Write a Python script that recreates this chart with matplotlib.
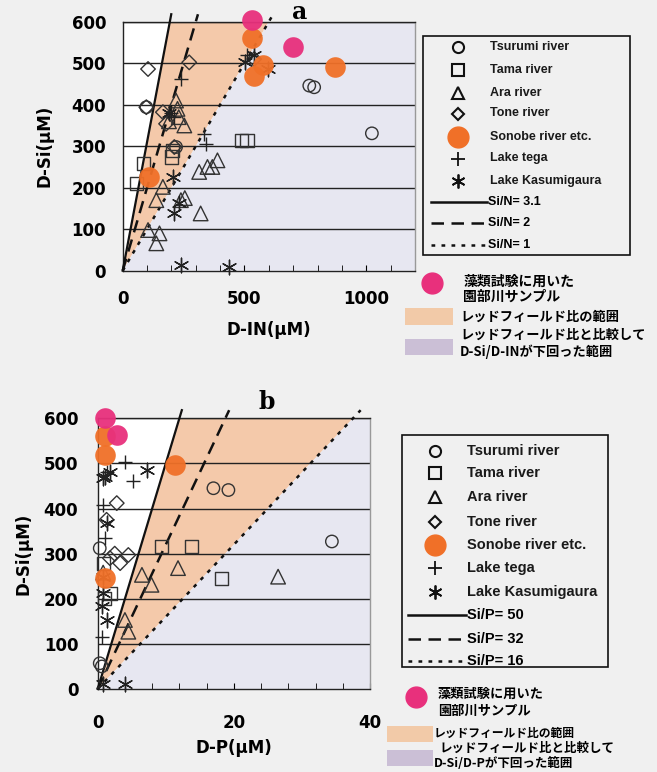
import matplotlib
matplotlib.use("Agg")
import matplotlib.pyplot as plt
from matplotlib.patches import Rectangle
from matplotlib.lines import Line2D
import numpy as np

plt.rcParams['font.family'] = ['DejaVu Sans', 'Noto Sans CJK JP']
plt.rcParams['font.weight'] = 'bold'
plt.rcParams['axes.labelweight'] = 'bold'

W, H = 657, 772
BG = '#f0f0f0'
ORANGE_FILL = '#f4c9aa'
LAV_FILL = '#e7e7f1'
ORANGE = '#f07028'
PINK = '#e8307c'

# ---------------- data panel a (D-IN vs D-Si) ----------------
a_tsurumi_x = [766, 786, 1023, 97, 219]
a_tsurumi_y = [446, 442, 331, 394, 298]
a_tama_x = [489, 510, 57, 84, 199, 205]
a_tama_y = [314, 314, 210, 258, 274, 290]
a_ara_x = [219, 225, 253, 138, 239, 255, 320, 151, 138, 314, 348, 389, 368, 165, 104, 230, 190]
a_ara_y = [410, 390, 350, 170, 170, 175, 138, 90, 66, 238, 250, 266, 250, 202, 98, 370, 360]
a_tone_x = [104, 273, 97, 165, 212, 178, 540]
a_tone_y = [486, 502, 394, 382, 298, 354, 510]
a_tega_x = [239, 212, 334, 341, 200, 510]
a_tega_y = [462, 370, 330, 306, 380, 520]
a_kasumi_x = [239, 435, 205, 212, 232, 503, 597, 190, 540]
a_kasumi_y = [14, 10, 226, 138, 162, 502, 486, 380, 520]
a_sonobe_x = [530, 575, 540, 870, 110]
a_sonobe_y = [560, 495, 470, 490, 225]
a_algae_x = [530, 700]
a_algae_y = [603, 540]
a_ratios = [3.1, 2, 1]
a_ratio_labels = ['Si/N= 3.1', 'Si/N= 2', 'Si/N= 1']

# ---------------- data panel b (D-P vs D-Si) ----------------
b_tsurumi_x = [17.0, 19.2, 34.4, 0.3, 0.3, 0.6]
b_tsurumi_y = [445, 441, 327, 312, 57, 50]
b_tama_x = [9.4, 13.8, 18.2, 0.8, 1.8, 1.0]
b_tama_y = [316, 316, 245, 279, 212, 200]
b_ara_x = [6.5, 7.9, 11.8, 26.5, 4.5, 4.0, 0.8]
b_ara_y = [253, 231, 268, 249, 127, 153, 258]
b_tone_x = [2.8, 4.5, 3.3, 1.3, 1.8, 2.5]
b_tone_y = [412, 297, 279, 375, 290, 300]
b_tega_x = [4.0, 5.2, 0.8, 1.1, 0.6, 1.3]
b_tega_y = [504, 460, 408, 334, 116, 482]
b_kasumi_x = [7.2, 1.8, 0.8, 0.8, 0.8, 0.6, 1.3, 0.8, 4.0, 1.3, 1.0]
b_kasumi_y = [486, 482, 467, 249, 212, 183, 153, 12, 12, 367, 470]
b_sonobe_x = [1.0, 1.1, 11.4, 1.1]
b_sonobe_y = [560, 519, 497, 245]
b_algae_x = [1.1, 2.8]
b_algae_y = [600, 563]
b_ratios = [50, 32, 16]
b_ratio_labels = ['Si/P= 50', 'Si/P= 32', 'Si/P= 16']

series_names = ['Tsurumi river', 'Tama river', 'Ara river', 'Tone river',
                'Sonobe river etc.', 'Lake tega', 'Lake Kasumigaura']
jp_algae = ['藻類試験に用いた', '園部川サンプル']
jp_range = 'レッドフィールド比の範囲'
jp_below = 'レッドフィールド比と比較して'
jp_below2_a = 'D-Si/D-INが下回った範囲'
jp_below2_b = 'D-Si/D-Pが下回った範囲'

fig = plt.figure(figsize=(W / 100, H / 100), dpi=100, facecolor=BG)


def fx(x):
    return x / W


def fy(y):
    return 1 - y / H


def make_axes(left, top, right, bottom):
    return fig.add_axes([fx(left), fy(bottom), fx(right) - fx(left), fy(top) - fy(bottom)])


linestyles = ['-', (0, (5, 3)), (0, (1.5, 2.5))]
MARKERS = ['o', 's', '^', 'D', 'o', '+', (6, 2, 0), 'o']
SIZES = [80, 90, 110, 55, 220, 110, 110, 220]


def draw_panel(ax, xmax, xticks_major, xminor, ratios, series, ytick_pad, xtick_pad):
    ax.set_facecolor('white')
    ax.set_xlim(0, xmax)
    ax.set_ylim(0, 600)
    top = 600
    x_hi = top / ratios[0]
    x_lo = top / ratios[2]
    ax.fill([0, x_hi, x_lo], [0, top, top], color=ORANGE_FILL, lw=0, zorder=1)
    ax.fill([0, x_lo, xmax, xmax], [0, top, top, 0], color=LAV_FILL, lw=0, zorder=1)
    for yv in range(100, 700, 100):
        ax.axhline(yv, color='#222222', lw=1.0, zorder=2)
    for r, ls in zip(ratios, linestyles):
        yy = np.array([0, 618])
        ax.plot(yy / r, yy, color='#111111', lw=1.8 if ls != '-' else 1.6,
                linestyle=ls, clip_on=False, zorder=3)
    for i, (xs, ys) in enumerate(series):
        m, s = MARKERS[i], SIZES[i]
        if i == 4:
            ax.scatter(xs, ys, s=s, color=ORANGE, lw=0, zorder=5, clip_on=False, alpha=0.95)
        elif i == 7:
            ax.scatter(xs, ys, s=s, color=PINK, lw=0, zorder=5, clip_on=False, alpha=0.95)
        elif m in ('+', (6, 2, 0)):
            ax.scatter(xs, ys, marker=m, s=s, color='#222222', lw=1.0, zorder=4, clip_on=False)
        else:
            ax.scatter(xs, ys, marker=m, s=s, facecolors='none', edgecolors='#333333',
                       lw=1.0, zorder=4, clip_on=False)
    ax.set_yticks(range(0, 700, 100))
    ax.set_xticks(xticks_major)
    ax.set_xticks(xminor, minor=True)
    ax.tick_params(axis='y', length=0, labelsize=12, pad=ytick_pad)
    ax.tick_params(axis='x', which='both', direction='in', length=4, labelsize=12, pad=xtick_pad)
    for sp in ax.spines.values():
        sp.set_color('#222222')
        sp.set_linewidth(1.0)
    ax.spines['right'].set_color('#999999')


# ---------------- panel a ----------------
axa = make_axes(122.7, 21.7, 415, 270.7)
draw_panel(axa, 1200, [0, 500, 1000], list(range(0, 1201, 100)), a_ratios,
           [(a_tsurumi_x, a_tsurumi_y), (a_tama_x, a_tama_y), (a_ara_x, a_ara_y),
            (a_tone_x, a_tone_y), (a_sonobe_x, a_sonobe_y), (a_tega_x, a_tega_y),
            (a_kasumi_x, a_kasumi_y), (a_algae_x, a_algae_y)], 12, 14)
axa.set_xlabel('D-IN(μM)', fontsize=12, labelpad=9)
axa.set_ylabel('D-Si(μM)', fontsize=12, labelpad=13)
fig.text(fx(300), fy(12), 'a', fontsize=17, fontweight='bold', family='DejaVu Serif',
         ha='center', va='center')

# ---------------- panel b ----------------
axb = make_axes(97.7, 418.3, 370, 689)
draw_panel(axb, 40, [0, 20, 40], list(range(0, 41, 4)), b_ratios,
           [(b_tsurumi_x, b_tsurumi_y), (b_tama_x, b_tama_y), (b_ara_x, b_ara_y),
            (b_tone_x, b_tone_y), (b_sonobe_x, b_sonobe_y), (b_tega_x, b_tega_y),
            (b_kasumi_x, b_kasumi_y), (b_algae_x, b_algae_y)], 14, 18)
axb.set_xlabel('D-P(μM)', fontsize=12, labelpad=5)
axb.set_ylabel('D-Si(μM)', fontsize=12, labelpad=8)
fig.text(fx(267), fy(402), 'b', fontsize=17, fontweight='bold', family='DejaVu Serif',
         ha='center', va='center')


# ---------------- legends ----------------
def legend_box(left, top, right, bottom, rows_y, mx, tx, lx0, lx1, ratio_labels, fs):
    fig.add_artist(Rectangle((fx(left), fy(bottom)), fx(right) - fx(left), fy(top) - fy(bottom),
                             transform=fig.transFigure, fill=False, ec='#111111', lw=1.2))
    for i, name in enumerate(series_names):
        y = rows_y[i]
        m = MARKERS[i]
        if i == 4:
            fig.add_artist(Line2D([fx(mx)], [fy(y)], marker='o', ms=15, color=ORANGE, mec=ORANGE,
                                  lw=0, transform=fig.transFigure))
        elif m in ('+', (6, 2, 0)):
            fig.add_artist(Line2D([fx(mx)], [fy(y)], marker=m, ms=10, color='#111111', mew=1.3,
                                  lw=0, transform=fig.transFigure))
        else:
            fig.add_artist(Line2D([fx(mx)], [fy(y)], marker=m,
                                  ms={'o': 8, 's': 8, '^': 9, 'D': 6.5}[m],
                                  mfc='none', mec='#111111', mew=1.5, lw=0,
                                  transform=fig.transFigure))
        fig.text(fx(tx), fy(y), name, fontsize=fs, fontweight='bold', va='center', ha='left',
                 family='Liberation Sans', color='#1a1a1a')
    for j, (lab, ls) in enumerate(zip(ratio_labels, linestyles)):
        y = rows_y[7 + j]
        fig.add_artist(Line2D([fx(lx0), fx(lx1)], [fy(y), fy(y)], color='#111111', lw=1.8,
                              linestyle=ls, transform=fig.transFigure))
        fig.text(fx(lx1 + 1), fy(y), lab, fontsize=fs, fontweight='bold', va='center', ha='left',
                 family='Liberation Sans')


legend_box(422.7, 35.7, 630, 255,
           [47.3, 70, 92.7, 113.5, 137, 158.5, 180.7, 202, 223, 245],
           458, 490, 430.7, 487, a_ratio_labels, 9)
legend_box(401.7, 435, 608, 666.7,
           [450.7, 473, 497, 521.7, 545, 568, 591.7, 615, 639, 660.7],
           435, 467, 408, 466, b_ratio_labels, 10.5)


def lower_legend(cx, cy, tx1, ty1, ty2, px0, px1, py0, py1, tx2, ty3,
                 qy0, qy1, tx3, ty4, tx4, ty5, line2, fs1, fs2, fs3):
    fig.add_artist(Line2D([fx(cx)], [fy(cy)], marker='o', ms=15, color=PINK, mec=PINK, lw=0,
                          transform=fig.transFigure))
    kw = dict(fontweight='bold', va='center', ha='left',
              family=['Noto Sans CJK JP', 'DejaVu Sans'])
    fig.text(fx(tx1), fy(ty1), jp_algae[0], fontsize=fs1, **kw)
    fig.text(fx(tx1), fy(ty2), jp_algae[1], fontsize=fs1, **kw)
    fig.add_artist(Rectangle((fx(px0), fy(py1)), fx(px1) - fx(px0), fy(py0) - fy(py1),
                             transform=fig.transFigure, color='#f2caa8', lw=0))
    fig.text(fx(tx2), fy(ty3), jp_range, fontsize=fs2, **kw)
    fig.add_artist(Rectangle((fx(px0), fy(qy1)), fx(px1) - fx(px0), fy(qy0) - fy(qy1),
                             transform=fig.transFigure, color='#cbbfd6', lw=0))
    fig.text(fx(tx3), fy(ty4), jp_below, fontsize=fs3, **kw)
    fig.text(fx(tx4), fy(ty5), line2, fontsize=fs3, **kw)


lower_legend(432, 283, 463, 282, 297, 405, 453, 308, 325, 460, 316.5,
             339, 355, 460, 335, 460, 352, jp_below2_a, 10, 9.5, 9.5)
lower_legend(416, 697, 438, 694, 711, 387, 433, 726, 742, 434, 733,
             750, 766, 440, 748, 434, 763.5, jp_below2_b, 9.5, 8.5, 9)

fig.savefig('out.png', dpi=100, facecolor=BG)
